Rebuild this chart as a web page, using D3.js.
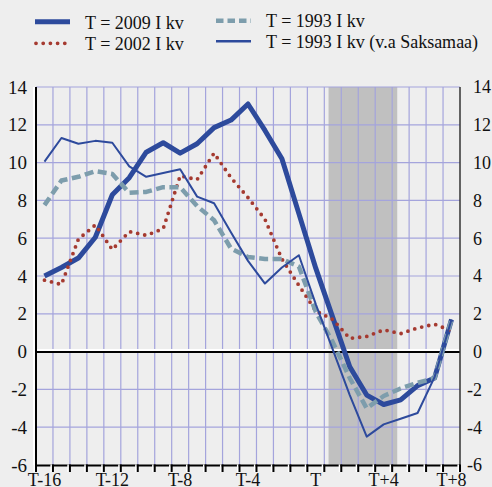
<!DOCTYPE html>
<html>
<head>
<meta charset="utf-8">
<script src="https://cdn.jsdelivr.net/npm/d3@7"></script>
<style>
  body { margin: 0; background: #eeeeee; }
  svg { display: block; }
  text { font-family: "Liberation Serif", "Times New Roman", serif; fill: #111; }
</style>
</head>
<body>
<div id="chart"></div>
<script>
// quarters around T
var quarters = ["T-16", "T-15", "T-14", "T-13", "T-12", "T-11", "T-10", "T-9", "T-8", "T-7", "T-6", "T-5",
    "T-4", "T-3", "T-2", "T-1", "T", "T+1", "T+2", "T+3", "T+4", "T+5", "T+6", "T+7", "T+8"];
var tickQuarters = ["T-16", "T-12", "T-8", "T-4", "T", "T+4", "T+8"];
var yTicks = [-6, -4, -2, 0, 2, 4, 6, 8, 10, 12, 14];

// series values
var s2009 = [4.0, 4.45, 4.95, 6.05, 8.3, 9.2, 10.55, 11.05, 10.5, 11.0, 11.85, 12.25, 13.1,
    11.7, 10.2, 7.3, 4.4, 1.8, -0.8, -2.3, -2.8, -2.55, -1.8, -1.4, 1.7];
var s2002 = [3.78, 3.55, 5.95, 6.7, 5.4, 6.35, 6.15, 6.5, 9.3, 9.1, 10.5, 9.2, 8.15,
    7.0, 4.9, 3.5, 2.15, 1.7, 0.7, 0.8, 1.15, 0.95, 1.25, 1.45, 1.1];
var s1993 = [7.75, 9.05, 9.25, 9.55, 9.4, 8.4, 8.45, 8.7, 8.7, 7.7, 6.95, 5.45, 5.0,
    4.9, 4.9, 4.5, 2.1, 0.5, -1.4, -3.0, -2.35, -1.95, -1.65, -1.4, 1.7];
var s1993exDE = [10.05, 11.3, 11.0, 11.15, 11.05, 9.8, 9.25, 9.45, 9.65, 8.2, 7.85, 6.3, 4.8,
    3.6, 4.45, 5.1, 2.5, 0.1, -2.3, -4.5, -3.85, -3.55, -3.25, -1.35, 1.7];

// shaded period, in quarter index units
var shadeFrom = 16.75;
var shadeTo = 20.8;

var seriesNames = ["T = 2009 I kv", "T = 2002 I kv", "T = 1993 I kv", "T = 1993 I kv (v.a Saksamaa)"];

/////////////////////////////////////////////////
///////////////// chart /////////////////////////
/////////////////////////////////////////////////

var W = 492, H = 487;
var plotLeft = 36, plotRight = 460, plotTop = 87, plotBottom = 465;

var svg = d3.select("#chart").append("svg")
    .attr("width", W)
    .attr("height", H);

svg.append("rect").attr("width", W).attr("height", H).attr("fill", "#eeeeee");

var x = d3.scaleLinear().domain([-0.5, quarters.length - 0.5]).range([plotLeft, plotRight]);
var y = d3.scaleLinear().domain([-6, 14]).range([plotBottom, plotTop]);

// shaded band
svg.append("rect")
    .attr("x", x(shadeFrom))
    .attr("y", plotTop)
    .attr("width", x(shadeTo) - x(shadeFrom))
    .attr("height", plotBottom - plotTop)
    .attr("fill", "#c0c0c0");

// grid
var gridColor = "#a4a4dc";
var bounds = d3.range(0.5, quarters.length - 1, 1);
svg.append("g").selectAll("line")
    .data(bounds)
    .enter().append("line")
    .attr("x1", function (d) { return x(d); })
    .attr("x2", function (d) { return x(d); })
    .attr("y1", plotTop)
    .attr("y2", plotBottom)
    .attr("stroke", gridColor)
    .attr("stroke-width", 1.2);

svg.append("g").selectAll("line")
    .data(yTicks.filter(function (d) { return d !== 0 && d !== -6; }))
    .enter().append("line")
    .attr("x1", plotLeft)
    .attr("x2", plotRight)
    .attr("y1", function (d) { return y(d); })
    .attr("y2", function (d) { return y(d); })
    .attr("stroke", gridColor)
    .attr("stroke-width", 1.2);

// zero line with white edge
svg.append("line").attr("x1", plotLeft).attr("x2", plotRight).attr("y1", y(0) - 1.5).attr("y2", y(0) - 1.5)
    .attr("stroke", "#fff").attr("stroke-width", 2);
svg.append("line").attr("x1", plotLeft).attr("x2", plotRight).attr("y1", y(0) + 0.5).attr("y2", y(0) + 0.5)
    .attr("stroke", "#000").attr("stroke-width", 2);

// left / right axis lines
svg.append("line").attr("x1", plotLeft - 2).attr("x2", plotLeft - 2).attr("y1", plotTop).attr("y2", plotBottom)
    .attr("stroke", "#fff").attr("stroke-width", 2);
svg.append("line").attr("x1", plotLeft).attr("x2", plotLeft).attr("y1", plotTop).attr("y2", plotBottom + 7)
    .attr("stroke", "#000").attr("stroke-width", 2);
svg.append("line").attr("x1", plotRight).attr("x2", plotRight).attr("y1", plotTop).attr("y2", plotBottom + 7)
    .attr("stroke", "#333").attr("stroke-width", 1.5);

// bottom axis with "shadowed" ticks
svg.append("line").attr("x1", plotLeft).attr("x2", plotRight).attr("y1", plotBottom + 0.5).attr("y2", plotBottom + 0.5)
    .attr("stroke", "#000").attr("stroke-width", 2);
var tickPos = d3.range(-0.5, quarters.length, 1);
var ticks = svg.append("g").selectAll("g")
    .data(tickPos)
    .enter().append("g");
ticks.append("line")
    .attr("x1", function (d) { return x(d) - 1.8; })
    .attr("x2", function (d) { return x(d) - 1.8; })
    .attr("y1", plotBottom - 0.6)
    .attr("y2", plotBottom + 7)
    .attr("stroke", "#fff")
    .attr("stroke-width", 1.6);
ticks.append("line")
    .attr("x1", function (d) { return x(d); })
    .attr("x2", function (d) { return x(d); })
    .attr("y1", plotBottom - 0.5)
    .attr("y2", plotBottom + 7)
    .attr("stroke", "#000")
    .attr("stroke-width", 2);

// y labels, left side
svg.append("g").selectAll("text")
    .data(yTicks)
    .enter().append("text")
    .attr("x", 27)
    .attr("y", function (d) { return y(d); })
    .attr("dy", "0.35em")
    .attr("text-anchor", "end")
    .style("font-size", "19px")
    .text(function (d) { return d; });

// y labels, right side (minus sign hangs left)
svg.append("g").selectAll("text")
    .data(yTicks)
    .enter().append("text")
    .attr("x", 473)
    .attr("dx", function (d) { return d < 0 ? -6 : 0; })
    .attr("y", function (d) { return y(d); })
    .attr("dy", "0.35em")
    .style("font-size", "18px")
    .text(function (d) { return d; });

// x labels
svg.append("g").selectAll("text")
    .data(tickQuarters)
    .enter().append("text")
    .attr("x", function (d) { return x(quarters.indexOf(d)); })
    .attr("y", 486)
    .attr("text-anchor", "middle")
    .style("font-size", "18px")
    .text(function (d) { return d; });

// lines
var line = d3.line()
    .x(function (d, i) { return x(i); })
    .y(function (d) { return y(d); });

var styles = [
    { data: s2009, color: "#2d4a9c", width: 5, dash: null, cap: "butt" },
    { data: s2002, color: "#a53a30", width: 3.8, dash: "0,7.2", cap: "round" },
    { data: s1993, color: "#7d9dac", width: 4.5, dash: "9,4.5", cap: "butt" },
    { data: s1993exDE, color: "#2d4a9c", width: 2, dash: null, cap: "butt" }
];

styles.forEach(function (s) {
    svg.append("path")
        .datum(s.data)
        .attr("d", line)
        .attr("fill", "none")
        .attr("stroke", s.color)
        .attr("stroke-width", s.width)
        .attr("stroke-dasharray", s.dash)
        .attr("stroke-linecap", s.cap)
        .attr("stroke-linejoin", "round");
});

// legend
var legendPos = [
    { x: 35, ly: 21.7, ty: 29.3 },
    { x: 35, ly: 43.3, ty: 50 },
    { x: 216, ly: 20.7, ty: 27.3 },
    { x: 216, ly: 41.3, ty: 47.5 }
];
var legend = svg.append("g").selectAll("g")
    .data(styles)
    .enter().append("g");
legend.append("line")
    .attr("x1", function (d, i) { return legendPos[i].x + (d.cap === "round" ? 1 : 0); })
    .attr("x2", function (d, i) { return legendPos[i].x + 35; })
    .attr("y1", function (d, i) { return legendPos[i].ly; })
    .attr("y2", function (d, i) { return legendPos[i].ly; })
    .attr("stroke", function (d) { return d.color; })
    .attr("stroke-width", function (d, i) { return i === 3 ? 2.5 : d.width; })
    .attr("stroke-dasharray", function (d, i) { return i === 2 ? "7.5,4" : d.dash; })
    .attr("stroke-linecap", function (d) { return d.cap; });
legend.append("text")
    .attr("x", function (d, i) { return legendPos[i].x + 50; })
    .attr("y", function (d, i) { return legendPos[i].ty; })
    .style("font-size", "18px")
    .text(function (d, i) { return seriesNames[i]; });
</script>
</body>
</html>
